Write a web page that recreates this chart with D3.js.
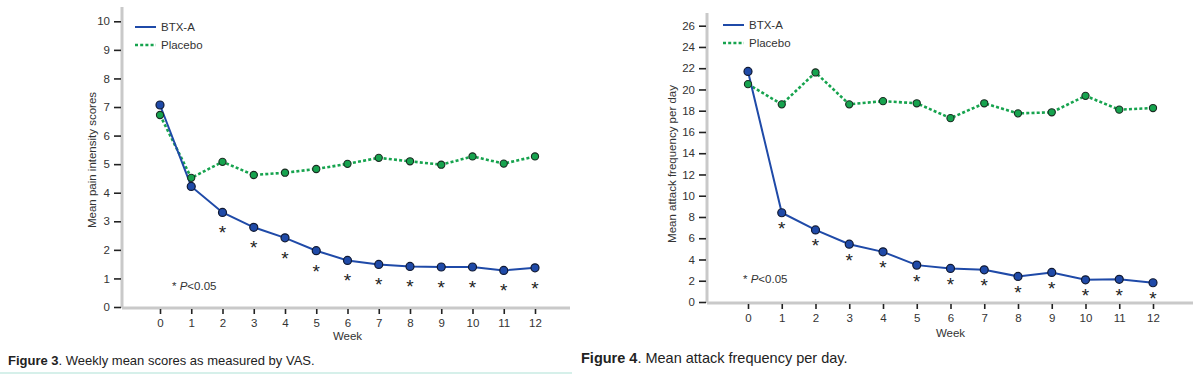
<!DOCTYPE html>
<html><head><meta charset="utf-8">
<script src="https://cdn.jsdelivr.net/npm/d3@7"></script>
<style>body{margin:0;background:#fff;}svg{display:block;font-family:Arial,"Liberation Sans",sans-serif;}</style>
</head><body>
<svg id="c" width="1200" height="375"></svg>
<script>
const weeks = [0,1,2,3,4,5,6,7,8,9,10,11,12];
const painBTX = [7.07,4.22,3.31,2.79,2.42,1.97,1.63,1.49,1.42,1.40,1.40,1.28,1.37];
const painPlacebo = [6.72,4.52,5.08,4.62,4.70,4.83,5.01,5.22,5.10,4.98,5.27,5.02,5.27];
const painSig = [false,false,true,true,true,true,true,true,true,true,true,true,true];
const painTicks = [0,1,2,3,4,5,6,7,8,9,10];
const attBTX = [21.7,8.4,6.78,5.44,4.72,3.47,3.16,3.03,2.41,2.78,2.09,2.13,1.81];
const attPlacebo = [20.5,18.6,21.6,18.6,18.9,18.7,17.3,18.7,17.75,17.85,19.4,18.1,18.25];
const attSig = [false,true,true,true,true,true,true,true,true,true,true,true,true];
const attTicks = [0,2,4,6,8,10,12,14,16,18,20,22,24,26];
const seriesNames = ["BTX-A","Placebo"];

const svg = d3.select("#c");
const BLUE = "#1f4aa8", GREEN = "#16a34e";
const FF = "Arial,'Liberation Sans',sans-serif";

function panel(cfg){
  const g = svg.append("g");
  const x = d3.scaleLinear().domain([0,12]).range(cfg.xr);
  const y = d3.scaleLinear().domain([0,cfg.ymax]).range(cfg.yr);
  g.append("line").attr("x1",cfg.ax).attr("x2",cfg.ax).attr("y1",cfg.atop).attr("y2",y(0)+1)
    .attr("stroke","#c9c9c9").attr("stroke-width",3);
  g.append("line").attr("x1",cfg.ax).attr("x2",cfg.axEnd).attr("y1",y(0)+1).attr("y2",y(0)+1)
    .attr("stroke","#c9c9c9").attr("stroke-width",3);
  const ya = g.append("g").attr("transform",`translate(${cfg.ax-1},0)`)
    .call(d3.axisLeft(y).tickValues(cfg.yticks).tickSize(7).tickPadding(4));
  ya.select(".domain").remove();
  ya.selectAll(".tick line").attr("stroke","#222").attr("stroke-width",1.6);
  ya.selectAll(".tick text").attr("fill","#333").style("font-size","11.5px").style("font-family",FF);
  const xa = g.append("g").attr("transform",`translate(0,${y(0)+2})`)
    .call(d3.axisBottom(x).tickValues(weeks).tickSize(5).tickPadding(5));
  xa.select(".domain").remove();
  xa.selectAll(".tick line").attr("stroke","#222").attr("stroke-width",1.6);
  xa.selectAll(".tick text").attr("fill","#333").style("font-size","11.5px").style("font-family",FF);
  g.append("text").attr("x",(x(0)+x(12))/2).attr("y",cfg.weekY).attr("text-anchor","middle")
    .attr("fill","#333").style("font-size","11.5px").text("Week");
  g.append("text").attr("transform",`translate(${cfg.ylx},${cfg.yly}) rotate(-90)`).attr("text-anchor","middle")
    .attr("fill","#333").style("font-size","11.5px").text(cfg.ylabel);
  const line = d3.line().x((d,i)=>x(weeks[i])).y(d=>y(d));
  g.append("path").datum(cfg.plac).attr("d",line).attr("fill","none").attr("stroke",GREEN)
    .attr("stroke-width",2.6).attr("stroke-dasharray","3,2.2");
  g.append("path").datum(cfg.btx).attr("d",line).attr("fill","none").attr("stroke",BLUE).attr("stroke-width",2);
  g.selectAll(".pp").data(cfg.plac).join("circle").attr("cx",(d,i)=>x(weeks[i])).attr("cy",d=>y(d))
    .attr("r",3.6).attr("fill",GREEN).attr("stroke","#1b2b22").attr("stroke-width",1.1);
  g.selectAll(".bp").data(cfg.btx).join("circle").attr("cx",(d,i)=>x(weeks[i])).attr("cy",d=>y(d))
    .attr("r",4).attr("fill",BLUE).attr("stroke","#111a33").attr("stroke-width",1.2);
  g.selectAll(".st").data(cfg.btx.map((v,i)=>({v,i})).filter(d=>cfg.sig[d.i])).join("text")
    .attr("x",d=>x(weeks[d.i])).attr("y",d=>y(d.v)+cfg.starOff+11).attr("text-anchor","middle")
    .attr("fill","#222").style("font-size","19px").text("*");
  const pn = g.append("text").attr("x",cfg.px).attr("y",cfg.py).attr("fill","#333").style("font-size","11.5px");
  pn.append("tspan").text("* ");
  pn.append("tspan").style("font-style","italic").text("P");
  pn.append("tspan").text("<0.05");
  seriesNames.forEach((n,i)=>{
    const ly = cfg.legY + i*18;
    g.append("line").attr("x1",cfg.legX).attr("x2",cfg.legX+21).attr("y1",ly).attr("y2",ly)
      .attr("stroke",i?GREEN:BLUE).attr("stroke-width",i?2.6:2).attr("stroke-dasharray",i?"3,2.2":null);
    g.append("text").attr("x",cfg.legX+26).attr("y",ly+4).attr("fill","#333").style("font-size","11.5px").text(n);
  });
  const cap = svg.append("text").attr("x",cfg.capX).attr("y",cfg.capY).attr("fill","#222").style("font-size",cfg.capSize);
  cap.append("tspan").style("font-weight","bold").text(cfg.capB);
  cap.append("tspan").text(cfg.capT);
}

panel({xr:[160,535], yr:[307,21.3], ymax:10, ax:122, atop:7, axEnd:570, yticks:painTicks,
  btx:painBTX, plac:painPlacebo, sig:painSig, starOff:16, weekY:340, ylx:96, yly:160,
  ylabel:"Mean pain intensity scores", px:172, py:290, legX:135, legY:27,
  capX:8, capY:365, capSize:"13px", capB:"Figure 3", capT:". Weekly mean scores as measured by VAS."});
panel({xr:[748,1153], yr:[302,25.7], ymax:26, ax:707, atop:13, axEnd:1193, yticks:attTicks,
  btx:attBTX, plac:attPlacebo, sig:attSig, starOff:11.5, weekY:337, ylx:676, yly:164,
  ylabel:"Mean attack frequency per day", px:743, py:283, legX:723, legY:25,
  capX:581, capY:363, capSize:"14.5px", capB:"Figure 4", capT:". Mean attack frequency per day."});
svg.append("line").attr("x1",0).attr("x2",572).attr("y1",373).attr("y2",373).attr("stroke","#d6f0ea").attr("stroke-width",2);
</script>
</body></html>
